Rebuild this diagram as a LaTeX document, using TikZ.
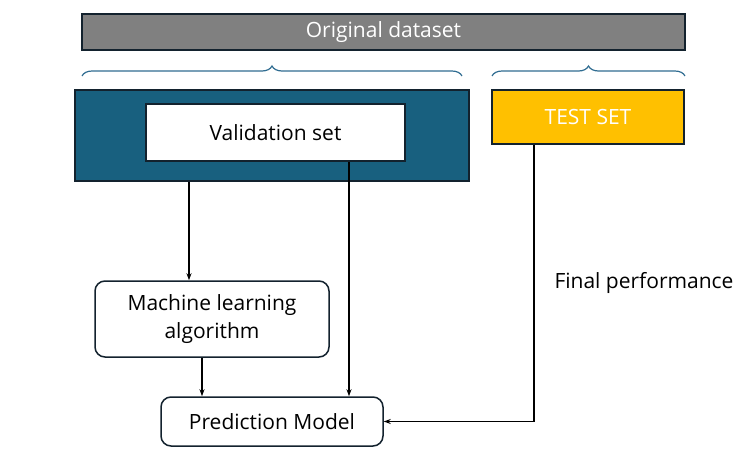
\documentclass[tikz,border=0pt]{standalone}
\usepackage{fontspec}
\setmainfont{Open Sans}
\usepackage{xcolor}
\usetikzlibrary{arrows.meta,decorations.pathreplacing}
\definecolor{dsgray}{HTML}{808080}
\definecolor{trainblue}{HTML}{18607F}
\definecolor{testyellow}{HTML}{FFC000}
\definecolor{edgedark}{HTML}{13222E}
\definecolor{bracecol}{HTML}{2F6C91}

\begin{document}
\begin{tikzpicture}[x=1pt,y=-1pt,
    box/.style={draw=edgedark,line width=1.5pt,inner sep=0pt,font=\fontsize{21}{28}\selectfont},
    rbox/.style={box,rounded corners=10pt,fill=white,align=center},
    arr/.style={-{Stealth[length=7pt,width=5pt]},line width=1.4pt},
    brc/.style={decorate,decoration={brace,amplitude=10pt},draw=bracecol,line width=1.2pt}]
    \useasboundingbox (0,0) rectangle (739,466);
    \node[box,fill=dsgray,text=white,minimum width=603pt,minimum height=36pt] (ds) at (383.5,32) {Original dataset};
    \draw[brc] (82,76) -- (462,76);
    \draw[brc] (492,76) -- (685,76);
    \node[box,fill=trainblue,minimum width=394pt,minimum height=91pt] (train) at (272,135.5) {};
    \node[box,fill=white,minimum width=259pt,minimum height=57pt] (val) at (275.5,132.5) {Validation set};
    \node[box,fill=testyellow,text=white,minimum width=192pt,minimum height=54pt] (test) at (588,117) {TEST SET};
    \node[rbox,minimum width=234pt,minimum height=76pt] (ml) at (212,319) {Machine learning\\algorithm};
    \node[rbox,minimum width=222pt,minimum height=49pt] (pm) at (272,421.5) {Prediction Model};
    \node[font=\fontsize{21}{28}\selectfont] (fp) at (644,283) {Final performance};
    \coordinate (a1) at (189,0);
    \coordinate (a2) at (349,0);
    \coordinate (a3) at (202,0);
    \coordinate (a4) at (534,0);
    \draw[arr] (a1 |- train.south) -- (a1 |- ml.north);
    \draw[arr] (a2 |- val.south) -- (a2 |- pm.north);
    \draw[arr] (a3 |- ml.south) -- (a3 |- pm.north);
    \draw[arr] (a4 |- test.south) |- (pm.east);
\end{tikzpicture}
\end{document}
